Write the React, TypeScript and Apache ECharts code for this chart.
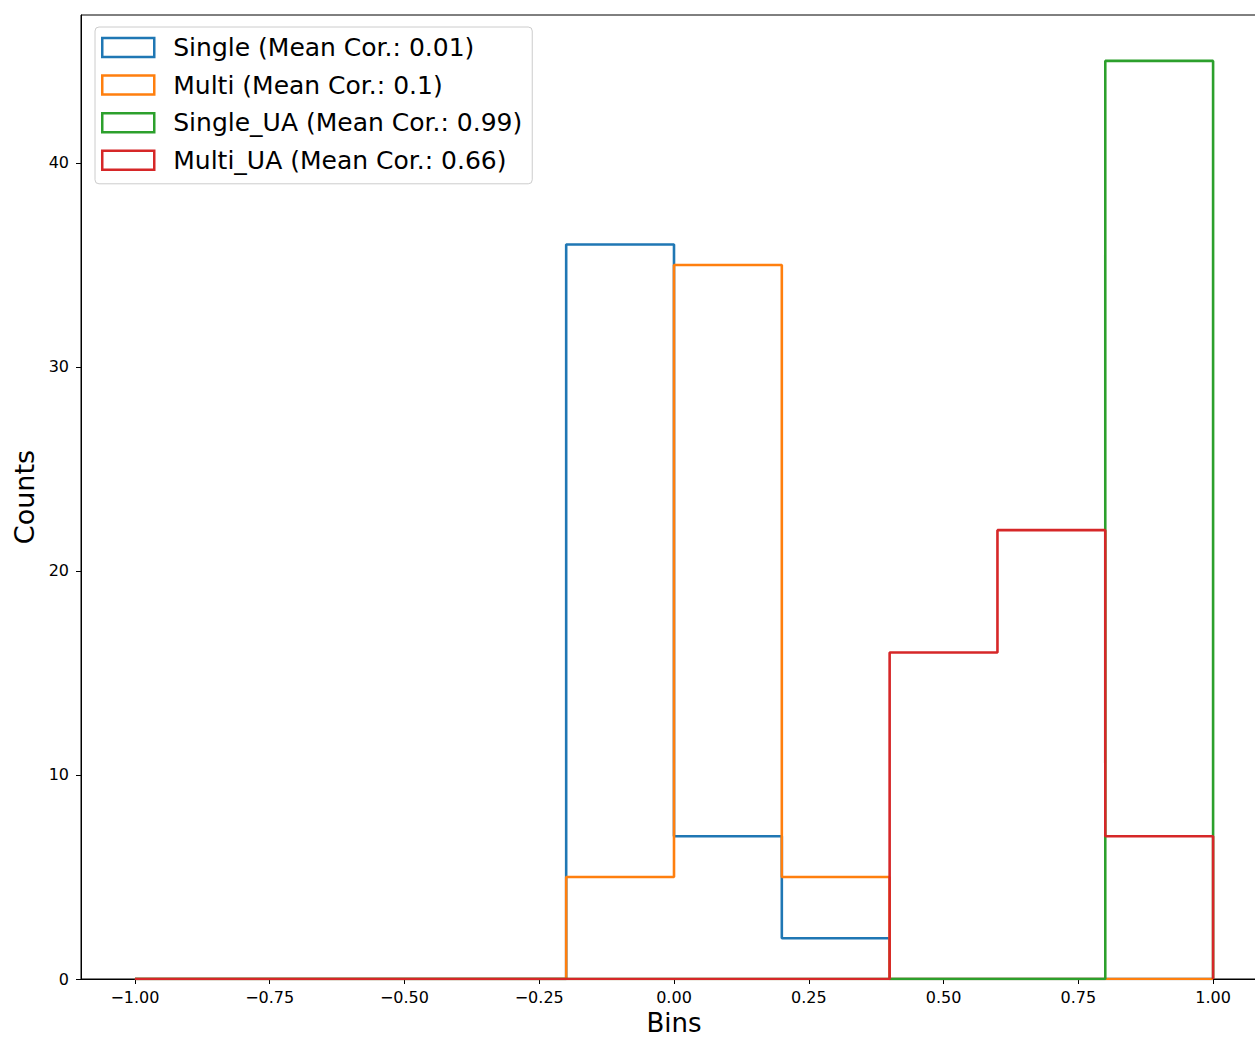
import React, { useEffect, useRef } from "react";
import * as echarts from "echarts";

const binEdges = [-1.0, -0.8, -0.6, -0.4, -0.2, 0.0, 0.2, 0.4, 0.6, 0.8, 1.0];
const seriesNames = [
  "Single (Mean Cor.: 0.01)",
  "Multi (Mean Cor.: 0.1)",
  "Single_UA (Mean Cor.: 0.99)",
  "Multi_UA (Mean Cor.: 0.66)",
];
const singleCounts = [0, 0, 0, 0, 36, 7, 2, 0, 0, 0];
const multiCounts = [0, 0, 0, 0, 5, 35, 5, 0, 0, 0];
const singleUACounts = [0, 0, 0, 0, 0, 0, 0, 0, 0, 45];
const multiUACounts = [0, 0, 0, 0, 0, 0, 0, 16, 22, 7];
const colors = ["#1f77b4", "#ff7f0e", "#2ca02c", "#d62728"];
const xTicks = [-1.0, -0.75, -0.5, -0.25, 0.0, 0.25, 0.5, 0.75, 1.0];
const yTicks = [0, 10, 20, 30, 40];

const FONT = "DejaVu Sans";

function stepOutline(edges: number[], counts: number[]): number[][] {
  const pts: number[][] = [[edges[0], 0]];
  for (let i = 0; i < counts.length; i++) {
    pts.push([edges[i], counts[i]]);
    pts.push([edges[i + 1], counts[i]]);
  }
  pts.push([edges[edges.length - 1], 0]);
  return pts;
}

export default function App() {
  const ref = useRef<HTMLDivElement>(null);
  useEffect(() => {
    if (!ref.current) return;
    const chart = echarts.init(ref.current, null, { renderer: "svg" });
    const allCounts = [singleCounts, multiCounts, singleUACounts, multiUACounts];
    const maxCount = Math.max(...allCounts.map((c) => Math.max(...c)));
    const fmt = (v: number) => v.toFixed(2).replace("-", "\u2212");
    chart.setOption({
      animation: false,
      grid: {
        left: 81,
        top: 15,
        width: 1186,
        height: 964,
        outerBoundsMode: "none",
        containLabel: false,
        show: true,
        borderColor: "#000",
        borderWidth: 1,
        backgroundColor: "transparent",
      },
      legend: {
        orient: "vertical",
        left: 95,
        top: 27,
        padding: [8, 10, 11, 6],
        itemGap: 12.6,
        itemWidth: 52,
        itemHeight: 19,
        backgroundColor: "rgba(255,255,255,0.8)",
        borderColor: "#ccc",
        borderWidth: 1,
        borderRadius: 4,
        textStyle: {
          fontFamily: FONT,
          fontSize: 25,
          color: "#000",
          lineHeight: 25,
          padding: [0, 0, 0, 14],
        },
        data: seriesNames.map((n, i) => ({
          name: n,
          icon: "rect",
          itemStyle: { color: "rgba(0,0,0,0)", borderColor: colors[i], borderWidth: 2.5 },
        })),
      },
      xAxis: {
        type: "value",
        min: -1.1,
        max: 1.1,
        name: "Bins",
        nameLocation: "middle",
        nameGap: 34,
        nameTextStyle: { fontFamily: FONT, fontSize: 26, color: "#000", lineHeight: 20 },
        axisLine: { show: true, onZero: false, lineStyle: { color: "#000", width: 1 } },
        axisTick: { show: true, length: 5, lineStyle: { color: "#000" }, customValues: xTicks },
        axisLabel: {
          fontFamily: FONT,
          fontSize: 16,
          color: "#000",
          margin: 10,
          customValues: xTicks,
          formatter: (v: number) => fmt(v),
        },
        splitLine: { show: false },
      },
      yAxis: {
        type: "value",
        min: 0,
        max: maxCount * 1.05,
        name: "Counts",
        nameLocation: "middle",
        nameRotate: 90,
        nameGap: 43,
        nameTextStyle: { fontFamily: FONT, fontSize: 27, color: "#000" },
        axisLine: { show: true, onZero: false, lineStyle: { color: "#000", width: 1 } },
        axisTick: { show: true, length: 5, lineStyle: { color: "#000" }, customValues: yTicks },
        axisLabel: {
          fontFamily: FONT,
          fontSize: 16,
          color: "#000",
          margin: 12,
          customValues: yTicks,
        },
        splitLine: { show: false },
      },
      series: allCounts.map((counts, i) => ({
        name: seriesNames[i],
        type: "line",
        data: stepOutline(binEdges, counts),
        showSymbol: false,
        symbol: "none",
        color: colors[i],
        lineStyle: { color: colors[i], width: 2.6 },
        z: 2 + i,
      })),
    });
    return () => chart.dispose();
  }, []);
  return (
    <div
      style={{
        position: "fixed",
        left: 0,
        top: 0,
        width: 1255,
        height: 1037,
        overflow: "hidden",
        background: "#fff",
      }}
    >
      <div ref={ref} style={{ width: 1290, height: 1037 }} />
    </div>
  );
}
